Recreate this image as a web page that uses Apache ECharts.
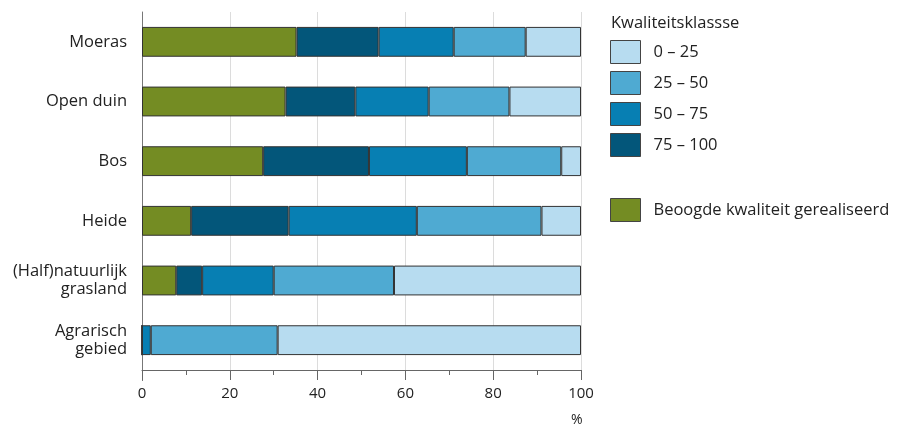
<!DOCTYPE html>
<html>
<head>
<meta charset="utf-8">
<script src="https://cdn.jsdelivr.net/npm/echarts@6/dist/echarts.min.js"></script>
<style>
  html, body { margin: 0; padding: 0; background: #fff; }
  #chart { width: 897px; height: 429px; }
</style>
</head>
<body>
<div id="chart"></div>
<script>
// Natuurtypen, van boven naar beneden
const categories = ['Moeras', 'Open duin', 'Bos', 'Heide', '(Half)natuurlijk\ngrasland', 'Agrarisch\ngebied'];

// Aandeel per kwaliteitsklasse (%)
const gerealiseerd = [35.2, 32.7, 27.6, 11.2, 7.8, 0];
const klasse75_100 = [18.7, 15.9, 24.1, 22.2, 5.9, 0];
const klasse50_75 = [17.1, 16.7, 22.3, 29.2, 16.3, 2.0];
const klasse25_50 = [16.4, 18.4, 21.5, 28.4, 27.4, 28.9];
const klasse0_25 = [12.6, 16.3, 4.5, 9.0, 42.6, 69.1];

const xTicks = [0, 20, 40, 60, 80, 100];

const FONT = 'Open Sans';
const colors = {
  green: '#748c23',
  c75: '#03567a',
  c50: '#077fb3',
  c25: '#4faad2',
  c0: '#b7dcf0'
};

function barSeries(name, data, color) {
  return {
    name: name,
    type: 'bar',
    stack: 'totaal',
    data: data,
    barWidth: '50%',
    itemStyle: { color: color, borderColor: '#333', borderWidth: 1 },
    emphasis: { disabled: true }
  };
}

const legendText = { fontSize: 16.5, color: '#222', fontFamily: FONT, padding: [0, 0, 0, 8] };

const chart = echarts.init(document.getElementById('chart'));
chart.setOption({
  animation: false,
  textStyle: { fontFamily: FONT },
  grid: { left: 142, right: 316, top: 12, bottom: 59, containLabel: false },
  legend: [
    {
      orient: 'vertical',
      left: 605,
      top: 35,
      itemWidth: 30,
      itemHeight: 23,
      itemGap: 7,
      icon: 'rect',
      selectedMode: false,
      data: ['0 – 25', '25 – 50', '50 – 75', '75 – 100'],
      itemStyle: { borderColor: '#444', borderWidth: 1 },
      textStyle: legendText
    },
    {
      orient: 'vertical',
      left: 605,
      top: 193,
      itemWidth: 30,
      itemHeight: 23,
      icon: 'rect',
      selectedMode: false,
      data: ['Beoogde kwaliteit gerealiseerd'],
      itemStyle: { borderColor: '#444', borderWidth: 1 },
      textStyle: legendText
    }
  ],
  graphic: [
    {
      type: 'text',
      left: 611,
      top: 15,
      style: { text: 'Kwaliteitsklassse', fontSize: 16.5, fill: '#222', fontFamily: FONT }
    },
    {
      type: 'text',
      left: 571,
      top: 413,
      style: { text: '%', fontSize: 14, fill: '#222', fontFamily: FONT }
    },
    {
      // verlengde van de verticale as onder de horizontale as
      type: 'line',
      shape: { x1: 142.5, y1: 370, x2: 142.5, y2: 381 },
      style: { stroke: '#777', lineWidth: 1 }
    }
  ],
  xAxis: {
    type: 'value',
    min: xTicks[0],
    max: xTicks[xTicks.length - 1],
    interval: 20,
    axisLine: { show: true, lineStyle: { color: '#666', width: 1 } },
    axisTick: { show: true, length: 10, lineStyle: { color: '#666' } },
    minorTick: { show: true, splitNumber: 2, length: 5, lineStyle: { color: '#666' } },
    splitLine: { show: true, lineStyle: { color: '#dcdcdc', width: 1 } },
    axisLabel: { fontSize: 15, color: '#222', margin: 16, fontFamily: FONT }
  },
  yAxis: {
    type: 'category',
    inverse: true,
    data: categories,
    axisLine: { show: true, lineStyle: { color: '#777', width: 1 } },
    axisTick: { show: false },
    splitLine: { show: false },
    axisLabel: { fontSize: 16.5, color: '#222', margin: 15, lineHeight: 18, align: 'right', fontFamily: FONT }
  },
  series: [
    barSeries('Beoogde kwaliteit gerealiseerd', gerealiseerd, colors.green),
    barSeries('75 – 100', klasse75_100, colors.c75),
    barSeries('50 – 75', klasse50_75, colors.c50),
    barSeries('25 – 50', klasse25_50, colors.c25),
    barSeries('0 – 25', klasse0_25, colors.c0)
  ]
});
</script>
</body>
</html>
